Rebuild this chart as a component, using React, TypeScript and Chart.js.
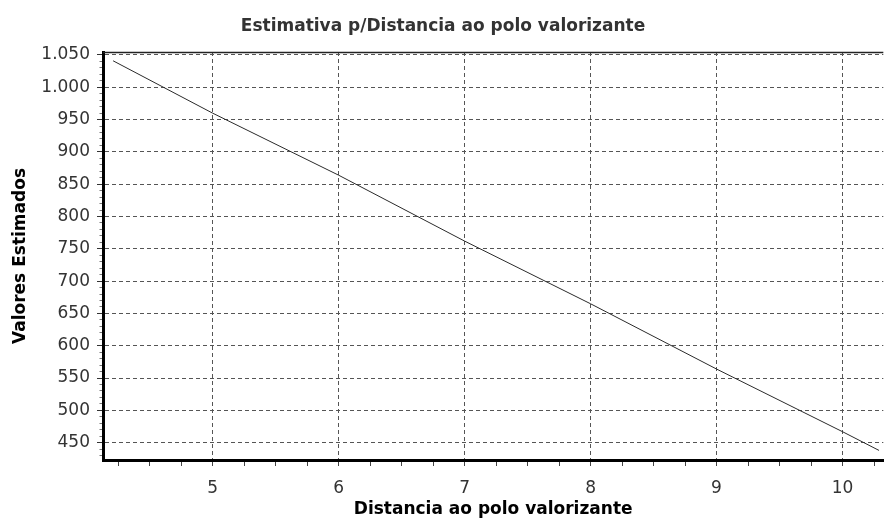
import React, { useEffect, useRef } from 'react';
import { Chart, registerables } from 'chart.js';

Chart.register(...registerables);

// ---- data ----
const xValues = [4.21, 5, 6, 7, 8, 9, 10, 10.29];
const yValues = [1041, 960, 864, 762, 665, 564, 467, 438];

const xMajorTicks = [5, 6, 7, 8, 9, 10];
const yMajorTicks = [450, 500, 550, 600, 650, 700, 750, 800, 850, 900, 950, 1000, 1050];
const xMinorStep = 0.25;
const yMinorStep = 10;

const chartTitle = 'Estimativa p/Distancia ao polo valorizante';
const xAxisTitle = 'Distancia ao polo valorizante';
const yAxisTitle = 'Valores Estimados';

const X_MIN = 4.13;
const X_MAX = 10.324;
const Y_MIN = 423.2;
const Y_MAX = 1054.6;

const FONT = "'DejaVu Sans', sans-serif";

const isMajor = (v: number, majors: number[]) => majors.some((m) => Math.abs(m - v) < 1e-6);

const fmtY = (v: number) => {
  const r = Math.round(v);
  if (r >= 1000) return Math.floor(r / 1000) + '.' + String(r % 1000).padStart(3, '0');
  return String(r);
};

const minorTicks = (min: number, max: number, step: number) => {
  const out: { value: number }[] = [];
  const a = Math.ceil(min / step - 1e-9);
  const b = Math.floor(max / step + 1e-9);
  for (let i = a; i <= b; i++) out.push({ value: Math.round(i * step * 1000) / 1000 });
  return out;
};

const topBorder = {
  id: 'topBorder',
  afterDraw(chart: any) {
    const { ctx, chartArea } = chart;
    ctx.save();
    ctx.strokeStyle = '#222';
    ctx.lineWidth = 1.5;
    ctx.beginPath();
    ctx.moveTo(chartArea.left, chartArea.top + 0.5);
    ctx.lineTo(chartArea.right, chartArea.top + 0.5);
    ctx.stroke();
    ctx.restore();
  },
};

export default function App() {
  const ref = useRef<HTMLCanvasElement | null>(null);

  useEffect(() => {
    document.body.style.margin = '0';
    const canvas = ref.current!;
    const chart = new Chart(canvas, {
      type: 'scatter',
      data: {
        datasets: [
          {
            data: xValues.map((x, i) => ({ x, y: yValues[i] })),
            showLine: true,
            borderColor: '#2a2a2a',
            borderWidth: 1,
            pointRadius: 0,
            fill: false,
          },
        ],
      },
      options: {
        responsive: false,
        animation: false,
        devicePixelRatio: 1,
        layout: { padding: { left: 0, right: 0, top: 0, bottom: 0 } },
        plugins: {
          legend: { display: false },
          tooltip: { enabled: false },
          title: {
            display: true,
            text: chartTitle,
            color: '#333',
            font: { family: FONT, size: 17, weight: 'bold' },
            padding: { top: 16, bottom: 15.6 },
          },
        },
        scales: {
          x: {
            type: 'linear',
            min: X_MIN,
            max: X_MAX,
            afterBuildTicks: (scale: any) => {
              scale.ticks = minorTicks(X_MIN, X_MAX, xMinorStep);
            },
            afterFit: (scale: any) => {
              scale.height = 65;
            },
            ticks: {
              autoSkip: false,
              maxRotation: 0,
              color: '#333',
              padding: 12,
              font: { family: FONT, size: 17 },
              callback: (v: any) => (isMajor(Number(v), xMajorTicks) ? String(Math.round(Number(v))) : ''),
            },
            grid: {
              color: (c: any) => (c.tick && isMajor(c.tick.value, xMajorTicks) ? '#555' : 'rgba(0,0,0,0)'),
              lineWidth: 1,
              tickLength: 6,
              tickColor: '#444',
              tickWidth: 1,
            },
            border: { display: true, color: '#000', width: 3, dash: [4, 3] },
            title: {
              display: true,
              text: xAxisTitle,
              color: '#000',
              font: { family: FONT, size: 17, weight: 'bold' },
              padding: { top: 0, bottom: 5 },
            },
          },
          y: {
            type: 'linear',
            min: Y_MIN,
            max: Y_MAX,
            afterBuildTicks: (scale: any) => {
              scale.ticks = minorTicks(Y_MIN, Y_MAX, yMinorStep);
            },
            afterFit: (scale: any) => {
              scale.width = 103;
            },
            ticks: {
              autoSkip: false,
              color: '#333',
              padding: 7,
              font: { family: FONT, size: 17 },
              callback: (v: any) => (isMajor(Number(v), yMajorTicks) ? fmtY(Number(v)) : ''),
            },
            grid: {
              color: (c: any) => (c.tick && isMajor(c.tick.value, yMajorTicks) ? '#555' : 'rgba(0,0,0,0)'),
              lineWidth: 1,
              tickLength: 6,
              tickColor: (c: any) => (c.tick && isMajor(c.tick.value, yMajorTicks) ? '#333' : '#777'),
              tickBorderDash: (c: any) => (c.tick && isMajor(c.tick.value, yMajorTicks) ? [] : [0, 2.5, 10]),
              tickWidth: 1,
            },
            border: { display: true, color: '#000', width: 3, dash: [4, 3] },
            title: {
              display: true,
              text: yAxisTitle,
              color: '#000',
              font: { family: FONT, size: 17, weight: 'bold' },
              padding: { top: 10, bottom: 0 },
            },
          },
        },
      } as any,
      plugins: [topBorder],
    });
    return () => chart.destroy();
  }, []);

  return (
    <div style={{ position: 'absolute', left: 0, top: 0, width: 886, height: 525 }}>
      <canvas ref={ref} width={886} height={525} style={{ display: 'block', width: 886, height: 525 }} />
    </div>
  );
}
